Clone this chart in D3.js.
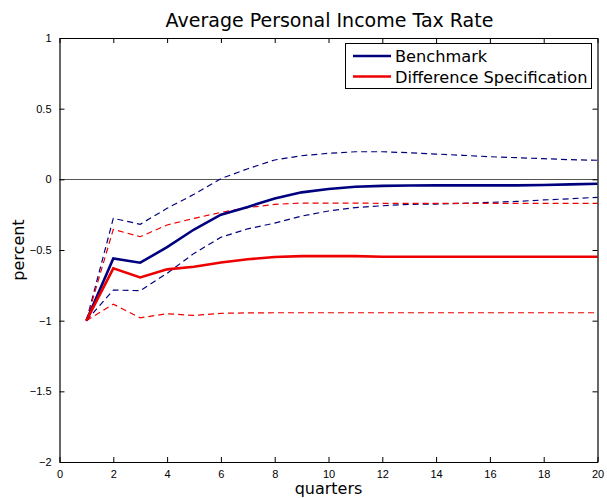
<!DOCTYPE html>
<html>
<head>
<meta charset="utf-8">
<script src="https://cdn.jsdelivr.net/npm/d3@7/dist/d3.min.js"></script>
<style>
  html, body { margin: 0; padding: 0; background: #fff; }
  svg { display: block; }
</style>
</head>
<body>
<script>
// Impulse response of the average personal income tax rate (percent)
const quarters = d3.range(1, 21);

const benchmark      = [-1.00, -0.56, -0.59, -0.48, -0.355, -0.25, -0.195, -0.135, -0.092, -0.068, -0.052, -0.046, -0.044, -0.043, -0.043, -0.043, -0.043, -0.040, -0.036, -0.031];
const benchmarkUpper = [-1.00, -0.276, -0.318, -0.205, -0.106, 0.005, 0.075, 0.137, 0.167, 0.184, 0.195, 0.195, 0.188, 0.179, 0.170, 0.160, 0.153, 0.146, 0.139, 0.135];
const benchmarkLower = [-1.00, -0.783, -0.788, -0.665, -0.524, -0.41, -0.35, -0.31, -0.26, -0.224, -0.20, -0.187, -0.177, -0.175, -0.170, -0.163, -0.156, -0.146, -0.137, -0.127];

const difference      = [-1.00, -0.63, -0.694, -0.637, -0.618, -0.588, -0.566, -0.55, -0.543, -0.543, -0.543, -0.548, -0.548, -0.548, -0.548, -0.548, -0.548, -0.548, -0.548, -0.548];
const differenceUpper = [-1.00, -0.354, -0.406, -0.323, -0.276, -0.234, -0.20, -0.177, -0.168, -0.168, -0.168, -0.170, -0.170, -0.170, -0.170, -0.170, -0.170, -0.170, -0.170, -0.170];
const differenceLower = [-1.00, -0.883, -0.98, -0.951, -0.963, -0.948, -0.945, -0.944, -0.944, -0.944, -0.944, -0.944, -0.944, -0.944, -0.944, -0.944, -0.944, -0.944, -0.944, -0.944];

const xTicks = [0, 2, 4, 6, 8, 10, 12, 14, 16, 18, 20];
const yTicks = [-2, -1.5, -1, -0.5, 0, 0.5, 1];
const seriesNames = ["Benchmark", "Difference Specification"];

const W = 607, H = 498;
const plotLeft = 59.5, plotRight = 597.5, plotTop = 38, plotBottom = 462;

const navy = "#00007f";
const red = "#ee0000";
const labelFont = "'DejaVu Sans', sans-serif";
const tickFont = "'Liberation Sans', Arial, sans-serif";

const svg = d3.select("body").append("svg")
  .attr("width", W).attr("height", H);

const x = d3.scaleLinear().domain([0, 20]).range([plotLeft, plotRight]);
const y = d3.scaleLinear().domain([-2, 1]).range([plotBottom, plotTop]);

const fmt = v => (v < 0 ? "\u2212" : "") + d3.format("~g")(Math.abs(v));

// Zero reference line
svg.append("line")
  .attr("x1", x(0)).attr("x2", x(20))
  .attr("y1", Math.round(y(0)) + 0.5).attr("y2", Math.round(y(0)) + 0.5)
  .attr("stroke", "#555").attr("stroke-width", 1.2);

// Series lines
const line = d3.line().x((d, i) => x(quarters[i])).y(d => y(d));

const series = [
  { data: benchmarkUpper, color: navy, width: 1.2, dash: "6,4" },
  { data: benchmarkLower, color: navy, width: 1.2, dash: "6,4" },
  { data: differenceUpper, color: red, width: 1.2, dash: "6,4" },
  { data: differenceLower, color: red, width: 1.2, dash: "6,4" },
  { data: benchmark, color: navy, width: 2.6, dash: null },
  { data: difference, color: red, width: 2.6, dash: null }
];

svg.append("g").selectAll("path").data(series).join("path")
  .attr("d", d => line(d.data))
  .attr("fill", "none")
  .attr("stroke", d => d.color)
  .attr("stroke-width", d => d.width)
  .attr("stroke-dasharray", d => d.dash)
  .attr("stroke-linejoin", "miter");

// Axes: box with inward ticks on all four sides
const tickLen = 5;
const bottomAxis = d3.axisBottom(x).tickValues(xTicks).tickSizeInner(-tickLen).tickSizeOuter(0).tickPadding(8).tickFormat(fmt);
const topAxis = d3.axisTop(x).tickValues(xTicks).tickSizeInner(-tickLen).tickSizeOuter(0).tickFormat("");
const leftAxis = d3.axisLeft(y).tickValues(yTicks).tickSizeInner(-tickLen).tickSizeOuter(0).tickPadding(8).tickFormat(fmt);
const rightAxis = d3.axisRight(y).tickValues(yTicks).tickSizeInner(-tickLen).tickSizeOuter(0).tickFormat("");

function style(g) {
  g.select(".domain").attr("stroke", "#000").attr("stroke-width", 1.2);
  g.selectAll(".tick line").attr("stroke", "#000").attr("stroke-width", 1);
  g.selectAll(".tick text").attr("fill", "#000").style("font-family", tickFont).style("font-size", "11px");
}

svg.append("g").attr("transform", `translate(0,${plotBottom})`).call(bottomAxis).call(style);
svg.append("g").attr("transform", `translate(0,${plotTop})`).call(topAxis).call(style);
svg.append("g").attr("transform", `translate(${plotLeft},0)`).call(leftAxis).call(style);
svg.append("g").attr("transform", `translate(${plotRight},0)`).call(rightAxis).call(style);

// Title and axis labels
svg.append("text")
  .attr("x", (plotLeft + plotRight) / 2 + 1).attr("y", 27)
  .attr("text-anchor", "middle")
  .style("font-family", labelFont).style("font-size", "19px")
  .text("Average Personal Income Tax Rate");

svg.append("text")
  .attr("x", (plotLeft + plotRight) / 2).attr("y", 494)
  .attr("text-anchor", "middle")
  .style("font-family", labelFont).style("font-size", "16px")
  .text("quarters");

svg.append("text")
  .attr("transform", `translate(24,${(plotTop + plotBottom) / 2}) rotate(-90)`)
  .attr("text-anchor", "middle")
  .style("font-family", labelFont).style("font-size", "16px")
  .text("percent");

// Legend
const legend = svg.append("g");
legend.append("rect")
  .attr("x", 345.5).attr("y", 43.5).attr("width", 246).attr("height", 45)
  .attr("fill", "#fff").attr("stroke", "#000").attr("stroke-width", 1);

const legendItems = [
  { name: seriesNames[0], color: navy },
  { name: seriesNames[1], color: red }
];
const row = legend.selectAll("g.item").data(legendItems).join("g")
  .attr("class", "item")
  .attr("transform", (d, i) => `translate(0,${56 + i * 20.5})`);
row.append("line")
  .attr("x1", 353).attr("x2", 391).attr("y1", 0).attr("y2", 0)
  .attr("stroke", d => d.color).attr("stroke-width", 2.6);
row.append("text")
  .attr("x", 395).attr("y", 6)
  .style("font-family", labelFont).style("font-size", "16.2px")
  .text(d => d.name);
</script>
</body>
</html>
